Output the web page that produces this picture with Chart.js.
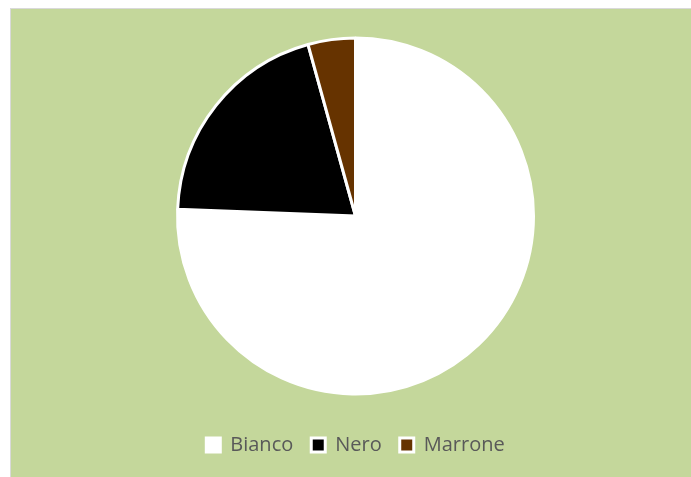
<!DOCTYPE html>
<html>
<head>
<meta charset="utf-8">
<script src="https://cdn.jsdelivr.net/npm/chart.js@4"></script>
<style>
  html, body { margin: 0; padding: 0; background: #ffffff; overflow: hidden; }
  #frame { position: absolute; left: 10px; top: 8px; width: 681px; height: 469px; border-left: 1px solid #d9d9d9; border-top: 1px solid #d9d9d9; background: #c4d79b; }
  #wrap { position: absolute; left: 0; top: 0; width: 679px; height: 467px; }
</style>
</head>
<body>
<div id="frame"><div id="wrap"><canvas id="c"></canvas></div></div>
<script>
const categories = ["Bianco", "Nero", "Marrone"];
const values = [75.6, 20.1, 4.3];
const sliceColors = ["#ffffff", "#000000", "#663300"];

new Chart(document.getElementById("c"), {
  type: "pie",
  data: {
    labels: categories,
    datasets: [{
      data: values,
      backgroundColor: sliceColors,
      borderColor: "#ffffff",
      borderWidth: 3,
      radius: 178
    }]
  },
  options: {
    responsive: true,
    maintainAspectRatio: false,
    animation: false,
    layout: { padding: { left: 10, right: 0, top: 6, bottom: 11 } },
    plugins: {
      tooltip: { enabled: false },
      legend: {
        position: "bottom",
        labels: {
          boxWidth: 14,
          boxHeight: 14,
          padding: 18,
          color: "#595959",
          font: { family: "'Open Sans', 'Liberation Sans', sans-serif", size: 20 }
        }
      }
    }
  }
});
</script>
</body>
</html>
